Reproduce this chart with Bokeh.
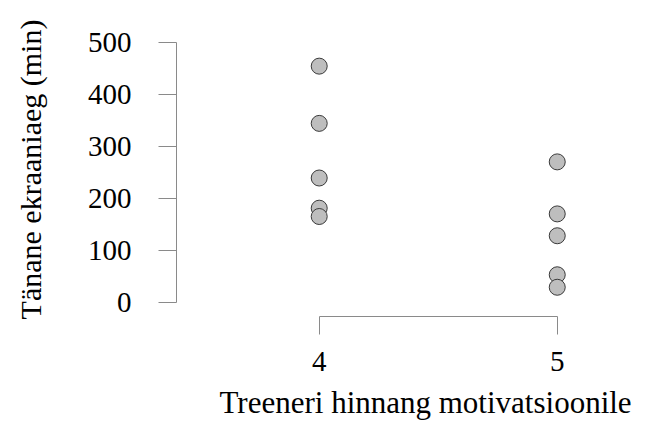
from bokeh.plotting import figure
from bokeh.models import Range1d, FixedTicker, Title
from bokeh.embed import file_html
from bokeh.resources import INLINE

# data
x_group = [4, 4, 4, 4, 4, 5, 5, 5, 5, 5]
screen_time = [455, 345, 240, 182, 166, 271, 171, 129, 54, 30]
x_ticks = [4, 5]
y_ticks = [0, 100, 200, 300, 400, 500]
x_title = "Treeneri hinnang motivatsioonile"
y_title = "Tänane ekraaniaeg (min)"

FONT = "Liberation Serif"
AX = "#8a8a8a"

p = figure(width=651, height=428, output_backend="svg", toolbar_location=None,
           x_range=Range1d(3.4004, 5.333), y_range=Range1d(-26.2, 538.9),
           min_border_left=176, min_border_right=15, min_border_top=22, min_border_bottom=111)
p.outline_line_color = None
p.grid.visible = False

p.scatter(x_group, screen_time, size=16, fill_color="#bebebe", line_color="#3a3a3a", line_width=1)

for ax in (p.xaxis[0], p.yaxis[0]):
    ax.axis_line_color = AX
    ax.major_tick_line_color = AX
    ax.minor_tick_line_color = None
    ax.major_tick_in = 0
    ax.major_tick_out = 18
    ax.major_label_text_font = FONT
    ax.major_label_text_font_size = "29px"
    ax.major_label_text_color = "black"

p.xaxis[0].ticker = FixedTicker(ticks=x_ticks)
p.xaxis[0].bounds = (4, 5)
p.xaxis[0].major_label_standoff = 17
p.yaxis[0].ticker = FixedTicker(ticks=y_ticks)
p.yaxis[0].bounds = (0, 500)
p.yaxis[0].major_label_standoff = 27

p.yaxis[0].axis_label = y_title
p.yaxis[0].axis_label_text_font = FONT
p.yaxis[0].axis_label_text_font_size = "30px"
p.yaxis[0].axis_label_text_font_style = "normal"
p.yaxis[0].axis_label_text_color = "black"
p.yaxis[0].axis_label_standoff = 38

t = Title(text=x_title, align="left", offset=43, standoff=18,
          text_font=FONT, text_font_size="31px", text_font_style="normal", text_color="black")
p.add_layout(t, "below")

open("out.html", "w").write(file_html(p, INLINE))
